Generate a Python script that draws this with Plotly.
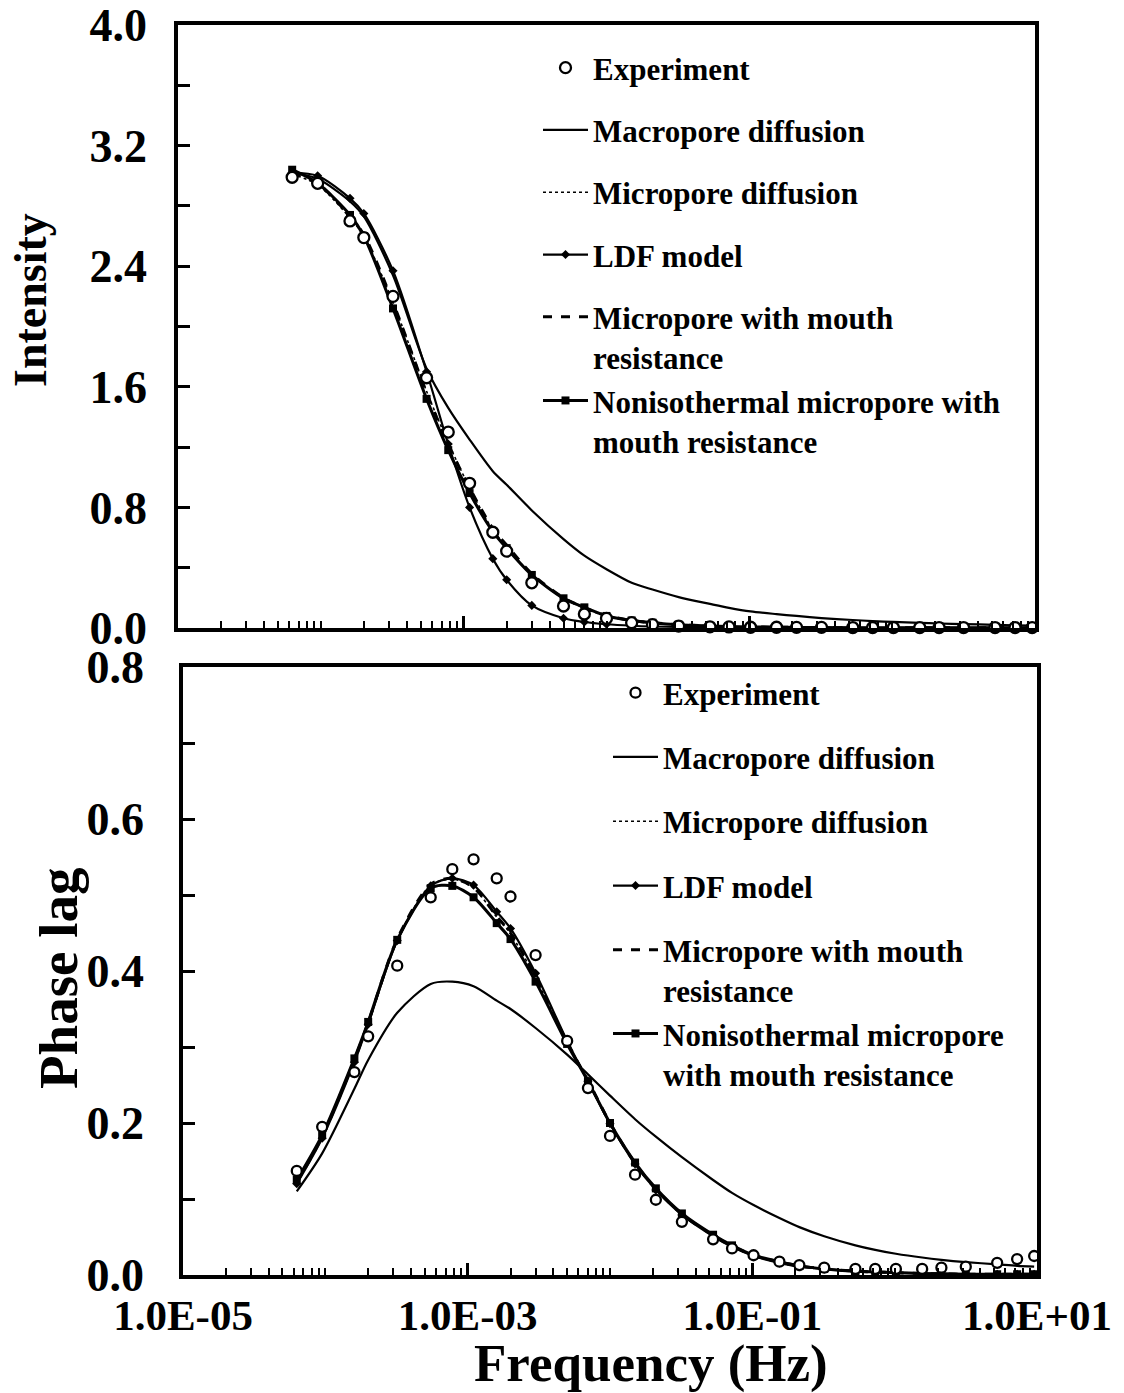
import plotly.graph_objects as go

# ---------------- data ----------------
freq = [6.3e-5, 9.5e-5, 1.6e-4, 2.0e-4, 3.2e-4, 5.5e-4, 7.8e-4, 1.1e-3, 1.6e-3, 2.0e-3,
        3.0e-3, 5.0e-3, 7.0e-3, 1.0e-2, 1.5e-2, 2.1e-2, 3.2e-2, 5.3e-2, 7.2e-2, 0.102,
        0.155, 0.214, 0.32, 0.53, 0.73, 1.02, 1.56, 2.13, 3.16, 5.25, 7.25, 9.55]

# Intensity (top panel)
exp_I = [2.99, 2.95, 2.70, 2.59, 2.20, 1.66, 1.30, 0.96, 0.635, 0.51,
         0.30, 0.146, 0.093, 0.064, 0.035, 0.022, 0.013, 0.008, 0.007, 0.005,
         0.005, 0.004, 0.004, 0.003, 0.003, 0.003, 0.003, 0.003, 0.003, 0.003, 0.003, 0.003]
macro_I = [3.02, 2.98, 2.83, 2.73, 2.34, 1.72, 1.46, 1.25, 1.04, 0.95,
           0.78, 0.59, 0.48, 0.39, 0.30, 0.255, 0.205, 0.16, 0.134, 0.11,
           0.092, 0.080, 0.066, 0.053, 0.046, 0.040, 0.034, 0.030, 0.026, 0.021, 0.018, 0.016]
micro_I = [3.01, 2.94, 2.72, 2.60, 2.16, 1.57, 1.23, 0.93, 0.65, 0.54,
           0.35, 0.20, 0.13, 0.08, 0.05, 0.034, 0.022, 0.014, 0.010, 0.007,
           0.005, 0.004, 0.003, 0.002, 0.002, 0.002, 0.001, 0.001, 0.001, 0.001, 0.001, 0.001]
ldf_I = [3.02, 3.00, 2.85, 2.75, 2.37, 1.70, 1.22, 0.80, 0.46, 0.32,
         0.15, 0.065, 0.04, 0.025, 0.015, 0.010, 0.007, 0.005, 0.004, 0.003,
         0.003, 0.002, 0.002, 0.002, 0.001, 0.001, 0.001, 0.001, 0.001, 0.001, 0.001, 0.001]
mouth_I = [3.02, 2.95, 2.73, 2.61, 2.16, 1.56, 1.22, 0.93, 0.66, 0.55,
           0.36, 0.20, 0.135, 0.082, 0.05, 0.035, 0.022, 0.014, 0.010, 0.007,
           0.005, 0.004, 0.003, 0.002, 0.002, 0.002, 0.001, 0.001, 0.001, 0.001, 0.001, 0.001]
noniso_I = [3.04, 2.95, 2.74, 2.60, 2.12, 1.52, 1.18, 0.895, 0.64, 0.53,
            0.352, 0.197, 0.137, 0.08, 0.05, 0.035, 0.022, 0.014, 0.010, 0.007,
            0.005, 0.004, 0.003, 0.002, 0.002, 0.002, 0.001, 0.001, 0.001, 0.001, 0.001, 0.001]

# Phase lag (bottom panel)
exp_P = [0.137, 0.195, 0.267, 0.314, 0.407, 0.497, 0.534, 0.547, 0.522, 0.498,
         0.421, 0.308, 0.246, 0.183, 0.132, 0.099, 0.070, 0.047, 0.035, 0.026,
         0.0175, 0.013, 0.0096, 0.008, 0.008, 0.008, 0.008, 0.0096, 0.011, 0.016, 0.021, 0.025]
macro_P = [0.110, 0.160, 0.245, 0.283, 0.345, 0.383, 0.386, 0.380, 0.361, 0.350,
           0.325, 0.290, 0.264, 0.236, 0.205, 0.182, 0.155, 0.125, 0.108, 0.092,
           0.075, 0.063, 0.051, 0.039, 0.033, 0.028, 0.023, 0.020, 0.017, 0.014, 0.012, 0.011]
micro_P = [0.121, 0.181, 0.282, 0.331, 0.441, 0.513, 0.521, 0.509, 0.471, 0.449,
           0.391, 0.305, 0.255, 0.199, 0.147, 0.113, 0.080, 0.052, 0.038, 0.026,
           0.017, 0.012, 0.008, 0.005, 0.004, 0.003, 0.002, 0.0015, 0.001, 0.001, 0.001, 0.001]
ldf_P = [0.120, 0.180, 0.280, 0.330, 0.440, 0.512, 0.522, 0.513, 0.478, 0.456,
         0.397, 0.308, 0.255, 0.199, 0.146, 0.112, 0.079, 0.051, 0.037, 0.025,
         0.016, 0.011, 0.008, 0.005, 0.004, 0.003, 0.002, 0.0015, 0.001, 0.001, 0.001, 0.001]
mouth_P = [0.122, 0.182, 0.283, 0.332, 0.442, 0.514, 0.522, 0.510, 0.472, 0.450,
           0.392, 0.306, 0.256, 0.200, 0.147, 0.113, 0.080, 0.052, 0.038, 0.026,
           0.017, 0.012, 0.008, 0.005, 0.004, 0.003, 0.002, 0.0015, 0.001, 0.001, 0.001, 0.001]
noniso_P = [0.125, 0.184, 0.285, 0.333, 0.441, 0.509, 0.512, 0.497, 0.463, 0.442,
            0.386, 0.304, 0.255, 0.200, 0.148, 0.114, 0.081, 0.053, 0.039, 0.026,
            0.0175, 0.012, 0.008, 0.005, 0.004, 0.003, 0.002, 0.0015, 0.001, 0.001, 0.001, 0.001]

intensity_ticks = [0.0, 0.8, 1.6, 2.4, 3.2, 4.0]
intensity_minor = [0.4, 1.2, 2.0, 2.8, 3.6]
phase_ticks = [0.0, 0.2, 0.4, 0.6, 0.8]
phase_minor = [0.1, 0.3, 0.5, 0.7]
freq_ticks = [1e-5, 1e-3, 1e-1, 1e1]
freq_ticklabels = ["1.0E-05", "1.0E-03", "1.0E-01", "1.0E+01"]

names_top = ["Experiment", "Macropore diffusion", "Micropore diffusion", "LDF model",
             "Micropore with mouth<br>resistance", "Nonisothermal micropore with<br>mouth resistance"]
names_bot = ["Experiment", "Macropore diffusion", "Micropore diffusion", "LDF model",
             "Micropore with mouth<br>resistance", "Nonisothermal micropore<br>with mouth resistance"]

# ---------------- figure ----------------
W, H = 1124, 1393
FONT = "Liberation Serif, Times New Roman, serif"
fig = go.Figure()


def add_set(xa, ya, leg, names, exp, macro, micro, ldf, mouth, noniso, msize):
    groups = ["g1", "g2", "g3", "g4", "g5", "g5"]
    common = dict(x=freq, xaxis=xa, yaxis=ya, legend=leg, cliponaxis=False)
    fig.add_trace(go.Scatter(y=macro, name=names[1], mode="lines", line=dict(color="black", width=2.2, shape="spline", smoothing=0.8),
                             legendrank=2, legendgroup=groups[1] + leg, **common))
    fig.add_trace(go.Scatter(y=micro, name=names[2], mode="lines", line=dict(color="black", width=1.6, dash="dot", shape="spline", smoothing=0.8),
                             legendrank=3, legendgroup=groups[2] + leg, **common))
    fig.add_trace(go.Scatter(y=ldf, name=names[3], mode="lines+markers", line=dict(color="black", width=2.2, shape="spline", smoothing=0.8),
                             marker=dict(symbol="diamond", size=7, color="black"),
                             legendrank=4, legendgroup=groups[3] + leg, **common))
    fig.add_trace(go.Scatter(y=mouth, name=names[4], mode="lines", line=dict(color="black", width=3, dash="dash", shape="spline", smoothing=0.8),
                             legendrank=5, legendgroup=groups[4] + leg, **common))
    fig.add_trace(go.Scatter(y=noniso, name=names[5], mode="lines+markers", line=dict(color="black", width=3, shape="spline", smoothing=0.8),
                             marker=dict(symbol="square", size=8, color="black"),
                             legendrank=6, legendgroup=groups[5] + leg, **common))
    fig.add_trace(go.Scatter(y=exp, name=names[0], mode="markers",
                             marker=dict(symbol="circle", size=msize, color="white", line=dict(color="black", width=2.3)),
                             legendrank=1, legendgroup=groups[0] + leg, **common))


add_set("x", "y", "legend", names_top, exp_I, macro_I, micro_I, ldf_I, mouth_I, noniso_I, 11)
add_set("x2", "y2", "legend2", names_bot, exp_P, macro_P, micro_P, ldf_P, mouth_P, noniso_P, 10)

minor_x = [k * 10.0 ** e for e in range(-5, 1) for k in range(1, 10)
           if not (k == 1 and e in (-5, -3, -1))]

axis_common = dict(showline=True, linecolor="black", linewidth=3.5, mirror=True, showgrid=False,
                   zeroline=False, ticks="inside", tickcolor="black", tickwidth=2.5, automargin=False)
xfont = dict(family=FONT, size=43, color="black", weight="bold")
yfont = dict(family=FONT, size=46, color="black", weight="bold")
legfont = dict(family=FONT, size=31, color="black", weight="bold")

fig.update_layout(
    width=W, height=H, autosize=False,
    margin=dict(l=0, r=0, t=0, b=0, autoexpand=False),
    paper_bgcolor="white", plot_bgcolor="white",
    showlegend=True,
    xaxis=dict(type="log", range=[-5, 1], domain=[178 / W, 1035 / W], anchor="y",
               tickvals=freq_ticks, showticklabels=False, ticklen=12, tickfont=xfont,
               minor=dict(tickvals=minor_x, ticks="inside", ticklen=7, tickwidth=2.2, tickcolor="black"),
               **axis_common),
    yaxis=dict(range=[0, 4.0], domain=[1 - 628 / H, 1 - 25 / H], anchor="x",
               tickvals=intensity_ticks, tickformat=".1f", ticklen=12, ticklabelstandoff=18, tickfont=yfont,
               minor=dict(tickvals=intensity_minor, ticks="inside", ticklen=12, tickwidth=2.5, tickcolor="black"),
               **axis_common),
    xaxis2=dict(type="log", range=[-5, 1], domain=[183 / W, 1037 / W], anchor="y2",
                tickvals=freq_ticks, ticktext=freq_ticklabels, ticklen=12, ticklabelstandoff=0, tickfont=xfont,
                minor=dict(tickvals=minor_x, ticks="inside", ticklen=7, tickwidth=2.2, tickcolor="black"),
                **axis_common),
    yaxis2=dict(range=[0, 0.8], domain=[1 - 1275 / H, 1 - 667 / H], anchor="x2",
                tickvals=phase_ticks, tickformat=".1f", ticklen=12, ticklabelstandoff=26, tickfont=yfont,
                minor=dict(tickvals=phase_minor, ticks="inside", ticklen=12, tickwidth=2.5, tickcolor="black"),
                **axis_common),
    legend=dict(x=538 / W, y=1 - 41 / H, xanchor="left", yanchor="top",
                bgcolor="rgba(0,0,0,0)", borderwidth=0, itemwidth=45,
                traceorder="grouped", tracegroupgap=19, valign="top", font=legfont),
    legend2=dict(x=608 / W, y=1 - 666 / H, xanchor="left", yanchor="top",
                 bgcolor="rgba(0,0,0,0)", borderwidth=0, itemwidth=45,
                 traceorder="grouped", tracegroupgap=21, valign="top", font=legfont),
    annotations=[
        dict(text="Intensity", x=30 / W, y=1 - 300 / H, xref="paper", yref="paper",
             showarrow=False, textangle=-90, xanchor="center", yanchor="middle",
             font=dict(family=FONT, size=46, color="black", weight="bold")),
        dict(text="Phase lag", x=58 / W, y=1 - 978 / H, xref="paper", yref="paper",
             showarrow=False, textangle=-90, xanchor="center", yanchor="middle",
             font=dict(family=FONT, size=55, color="black", weight="bold")),
        dict(text="Frequency (Hz)", x=651 / W, y=1 - 1363 / H, xref="paper", yref="paper",
             showarrow=False, xanchor="center", yanchor="middle",
             font=dict(family=FONT, size=53, color="black", weight="bold")),
    ],
)

fig.write_html("out.html")
